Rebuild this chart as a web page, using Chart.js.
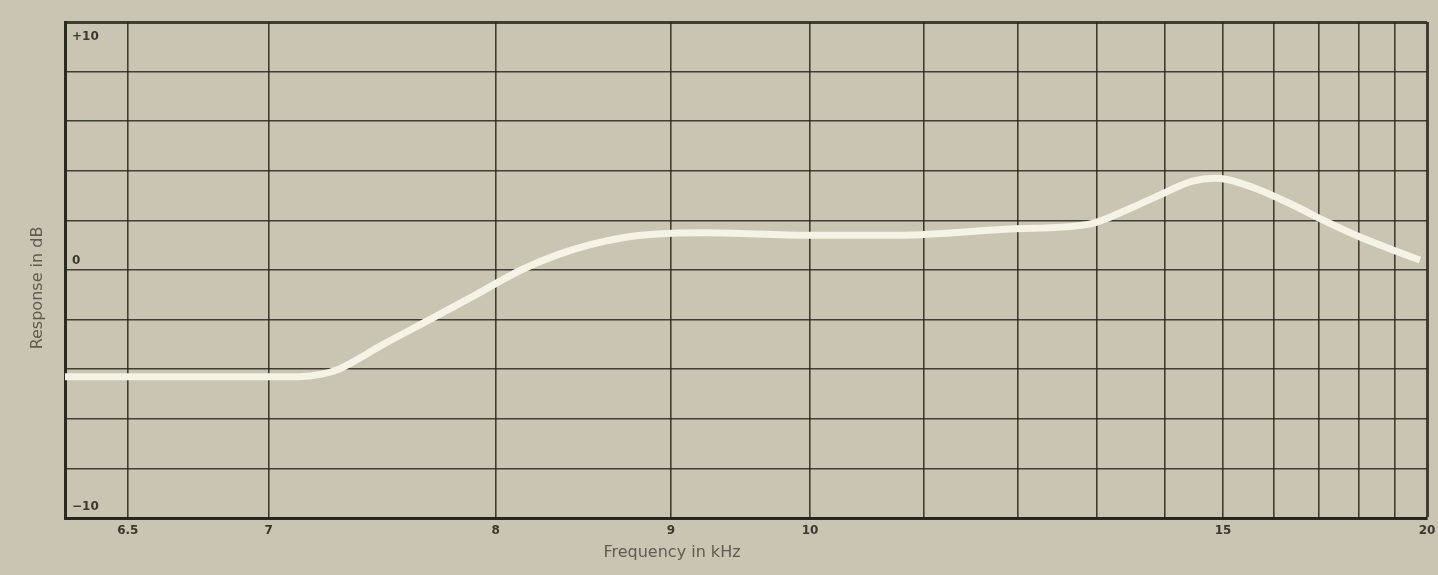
<!DOCTYPE html>
<html>
<head>
<meta charset="utf-8">
<script src="https://cdn.jsdelivr.net/npm/chart.js@4.4.1/dist/chart.umd.min.js"></script>
<style>
  body { margin: 0; background: #c9c5b2; }
  canvas { display: block; }
</style>
</head>
<body>
<canvas id="respChart" width="1438" height="575"></canvas>
<script>
// response curve (frequency in kHz, response in dB)
var freqKHz = [6.3, 7.12, 7.21, 7.28, 7.47, 7.68, 7.9, 8.13, 8.32, 8.5, 8.7, 8.91, 9.23, 9.99, 10.77, 11.91, 12.9, 13.42, 13.92, 14.46, 14.85, 15.07, 15.7, 16.4, 17.18, 18.02, 18.94, 19.77];
var responseDb = [-4.3, -4.3, -4.2, -4.0, -3.0, -2.0, -1.0, 0, 0.6, 1.0, 1.3, 1.45, 1.5, 1.4, 1.4, 1.65, 1.85, 2.42, 3.02, 3.58, 3.7, 3.65, 3.23, 2.62, 1.94, 1.33, 0.81, 0.4];

// frequency grid of the paper, and which lines get a label
var gridFreqs = [6.5, 7, 8, 9, 10, 11, 12, 13, 14, 15, 16, 17, 18, 19, 20];
var labelFreqs = [6.5, 7, 8, 9, 10, 15, 20];
var fMin = 6.3, fMax = 20;

// dB axis
var dbMin = -10, dbMax = 10, dbStep = 2;
var dbLabels = { "10": "+10", "0": "0", "-10": "\u221210" };

var xTitle = "Frequency in kHz";
var yTitle = "Response in dB";

var paper = "#c9c5b2";
var ink = "rgba(40,38,28,0.85)";
var curveColor = "#f5f2e6";

// the paper is ruled (nearly) linear in period: u = 1/(f - 0.25)
function toU(f) { return 1 / (f - 0.25); }
function fromU(u) { return 1 / u + 0.25; }

var points = freqKHz.map(function (f, i) { return { x: toU(f), y: responseDb[i] }; });

var paperLabels = {
    id: "paperLabels",
    beforeDraw: function (chart) {
        var c = chart.ctx;
        c.save();
        c.fillStyle = paper;
        c.fillRect(0, 0, chart.width, chart.height);
        c.restore();
    },
    afterDraw: function (chart) {
        var c = chart.ctx;
        var y = chart.scales.y;
        var area = chart.chartArea;
        c.save();
        // dB labels sit inside the frame
        c.font = "bold 12px 'DejaVu Sans'";
        c.fillStyle = "#3a382f";
        c.textAlign = "left";
        c.textBaseline = "middle";
        y.ticks.forEach(function (t) {
            var txt = dbLabels[String(t.value)];
            if (!txt) return;
            var py = y.getPixelForValue(t.value);
            var off = t.value === dbMax ? 15 : (t.value === dbMin ? -11 : -9);
            c.fillText(txt, area.left + 7, py + off);
        });
        // axis titles
        c.font = "16px 'DejaVu Sans'";
        c.fillStyle = "#5e5c52";
        c.textAlign = "center";
        c.fillText(xTitle, 672, 553);
        c.translate(38, 288);
        c.rotate(-Math.PI / 2);
        c.fillText(yTitle, 0, 0);
        c.restore();
    }
};

function edgeWidth(ctx) {
    var v = ctx.tick ? ctx.tick.value : null;
    if (v === null) return 1.5;
    if (Math.abs(v - toU(fMax)) < 1e-9 || v === dbMax) return 3;
    return 1.6;
}

var ctx = document.getElementById("respChart");
var respChart = new Chart(ctx, {
    type: "line",
    data: {
        datasets: [
            {
                label: "Response",
                data: points,
                borderColor: curveColor,
                borderWidth: 7,
                pointRadius: 0,
                cubicInterpolationMode: "monotone",
                fill: false
            }
        ]
    },
    options: {
        responsive: false,
        animation: false,
        devicePixelRatio: 1,
        layout: { padding: { top: 22, right: 11, left: 0, bottom: 0 } },
        plugins: {
            legend: { display: false },
            tooltip: { enabled: false }
        },
        scales: {
            x: {
                type: "linear",
                reverse: true,
                min: toU(fMax),
                max: toU(fMin),
                afterBuildTicks: function (scale) {
                    scale.ticks = gridFreqs.map(function (f) { return { value: toU(f) }; });
                },
                afterFit: function (scale) {
                    scale.height = 57;
                    scale.paddingLeft = 0;
                    scale.paddingRight = 0;
                },
                ticks: {
                    autoSkip: false,
                    maxRotation: 0,
                    padding: 6,
                    color: "#3a382f",
                    font: { family: "'DejaVu Sans'", size: 12, weight: "bold" },
                    callback: function (value) {
                        var f = Math.round(2 * fromU(value)) / 2;
                        return labelFreqs.indexOf(f) >= 0 ? String(f) : "";
                    }
                },
                grid: {
                    color: ink,
                    lineWidth: edgeWidth,
                    drawTicks: false
                },
                border: { display: true, color: "rgba(35,33,24,0.95)", width: 3 }
            },
            y: {
                min: dbMin,
                max: dbMax,
                afterFit: function (scale) { scale.width = 65; },
                ticks: { stepSize: dbStep, display: false },
                grid: {
                    color: ink,
                    lineWidth: edgeWidth,
                    drawTicks: false
                },
                border: { display: true, color: "rgba(35,33,24,0.95)", width: 3 }
            }
        }
    },
    plugins: [paperLabels]
});
</script>
</body>
</html>
